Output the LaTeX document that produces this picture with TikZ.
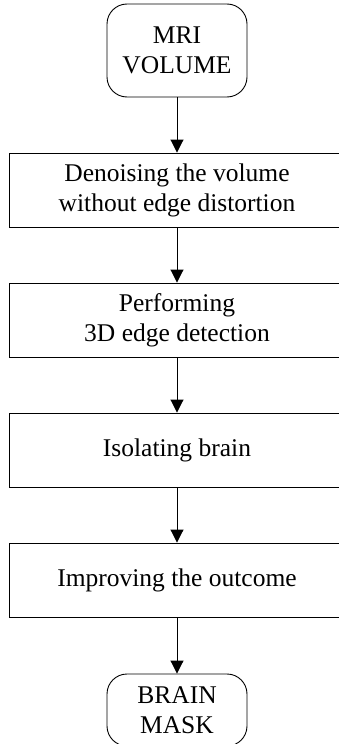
\documentclass[tikz,border=0pt]{standalone}
\usepackage{fontspec}
\setmainfont{Liberation Serif}
\usetikzlibrary{arrows.meta}

\begin{document}
\begin{tikzpicture}[x=1pt, y=-1pt, line width=0.9pt]
			\tikzstyle{every node} = [draw, align=center, font=\fontsize{25.5}{30}\selectfont]
			\tikzstyle{terminal} = [rounded corners=20pt, minimum width=140pt, minimum height=93pt]
			\tikzstyle{process} = [minimum width=336pt, minimum height=74pt]
			\useasboundingbox (0,0) rectangle (339,744);
			\node[terminal] (mri) at (177, 50.5) {MRI\\VOLUME};
			\node[process] (denoise) at (177, 190) {Denoising the volume\\without edge distortion};
			\node[process] (edges) at (177, 320) {Performing\\3D edge detection};
			\node[process] (isolate) at (177, 450) {Isolating brain};
			\node[process] (improve) at (177, 580) {Improving the outcome};
			\node[terminal, minimum height=72pt] (mask) at (177, 710) {BRAIN\\MASK};
			\foreach \from/\to in {mri/denoise, denoise/edges, edges/isolate, isolate/improve, improve/mask}
			\draw [-{Triangle[width=13pt,length=13pt]}] (\from) -- (\to);
			\end{tikzpicture}
\end{document}
